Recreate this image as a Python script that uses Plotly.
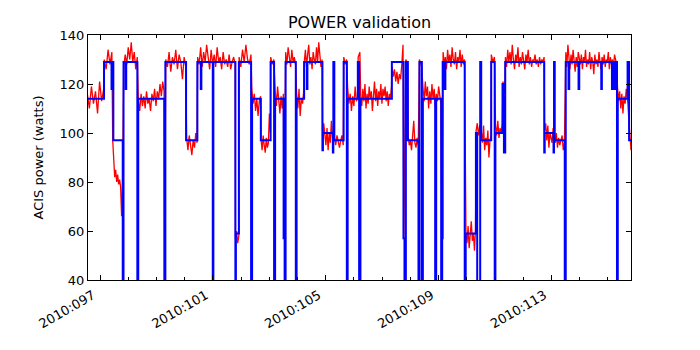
import numpy as np
import plotly.graph_objects as go

# Model power (blue step line): time in day-of-year 2010, value in watts
blue_time = [96.50, 97.142, 97.408, 97.433, 97.472, 97.805, 97.833, 97.911, 97.929, 98.323,
             98.355, 99.280, 99.316, 100.050, 100.450, 100.571, 100.592, 100.996, 101.018, 101.798,
             101.816, 101.922, 102.355, 102.390, 102.699, 103.046, 103.170, 103.206, 103.507, 103.543,
             103.578, 103.940, 103.968, 104.234, 104.330, 104.351, 104.883, 104.901, 105.252, 105.270,
             105.305, 105.635, 105.748, 105.777, 106.138, 106.184, 106.230, 107.344, 107.755, 107.791,
             107.840, 107.911, 108.287, 108.323, 108.408, 108.443, 108.879, 108.915, 109.092, 109.128,
             109.145, 109.216, 109.241, 109.926, 109.961, 110.323, 110.369, 110.475, 110.511, 110.865,
             110.989, 111.014, 111.266, 111.316, 111.362, 112.745, 112.762, 113.074, 113.092, 113.117,
             113.472, 113.507, 113.606, 113.631, 113.961, 113.986, 114.766, 114.787, 115.145, 115.167,
             115.238, 115.262, 115.323, 115.351, 115.699, 115.752, 116.0]
blue_power = [114, 129, 118, 129, 97, 0, 129, 118, 129, 0,
              114, 0, 129, 97, 129, 118, 129, 0, 129, 0,
              59, 129, 0, 114, 97, 129, 0, 114, 57, 0,
              129, 0, 114, 129, 118, 129, 93, 100, 92, 129,
              97, 129, 0, 114, 129, 0, 114, 129, 57, 0,
              129, 97, 0, 129, 0, 114, 0, 114, 0, 57,
              129, 118, 129, 0, 59, 100, 0, 129, 97, 129,
              0, 100, 120, 92, 129, 92, 100, 92, 129, 97,
              0, 129, 118, 129, 118, 129, 118, 129, 118, 129,
              118, 129, 0, 114, 129, 97, 97]

# Telemetry power (red): segment start/end times and the values read in each segment
red_seg_start = [96.55, 97.15, 97.45, 97.84, 98.36, 99.29, 99.33, 100.07, 100.46, 101.80,
                 101.93, 102.38, 102.71, 103.05, 103.21, 103.52, 103.58, 103.97, 104.24, 104.89,
                 105.31, 105.64, 105.78, 106.15, 106.24, 107.35, 107.77, 107.84, 107.92, 108.32,
                 108.45, 109.12, 109.16, 109.97, 110.33, 110.52, 110.87, 111.02, 111.28, 111.37,
                 112.76, 113.09, 113.51, 115.34, 115.71]
red_seg_end = [97.13, 97.42, 97.80, 98.32, 99.27, 99.29, 100.04, 100.44, 101.79, 101.92,
               102.35, 102.69, 103.04, 103.16, 103.50, 103.52, 103.93, 104.22, 104.87, 105.24,
               105.62, 105.74, 106.13, 106.21, 107.33, 107.74, 107.77, 107.90, 108.28, 108.40,
               109.08, 109.12, 109.92, 110.31, 110.50, 110.86, 110.98, 111.26, 111.35, 112.74,
               113.06, 113.46, 115.31, 115.69, 115.82]
red_seg_values = [
    [116, 110, 119, 112, 117, 108, 121, 113, 118],
    [130, 126, 134, 128, 133],
    [97, 88, 82, 85, 80, 83, 79, 81, 78, 66, 80],
    [127, 132, 128, 135, 130, 137, 129, 133, 126, 131],
    [113, 109, 116, 111, 115, 110, 117, 112, 114, 109, 116, 113, 118, 111, 117, 114, 120, 115, 121, 117],
    [56],
    [130, 127, 133, 125, 131, 128, 134, 126, 132, 129, 122, 131, 127],
    [98, 93, 99, 95, 91, 97, 94, 100, 96],
    [131, 128, 135, 127, 133, 129, 136, 130, 126, 134, 128, 132, 127, 135, 129, 131, 126, 133, 128, 130,
     127, 132, 126, 129, 131, 128],
    [57, 60, 55, 58],
    [131, 127, 134, 129, 136, 130, 128, 132],
    [118, 112, 116, 109, 114, 107, 113, 115],
    [97, 93, 99, 95, 92, 98, 94, 96, 108, 100],
    [131, 128, 130],
    [117, 111, 119, 113, 108, 115, 110, 116],
    [57],
    [133, 128, 135, 130, 127, 134, 129, 131, 128],
    [116, 110, 118, 107, 114, 112, 117],
    [129, 134, 127, 132, 136, 128, 131, 126, 133, 130, 128, 135, 129, 137, 131, 127, 130],
    [97, 104, 99, 95, 102, 93, 100, 96, 105, 98],
    [98, 95, 99, 96, 94, 97, 99, 95],
    [131, 128, 130],
    [118, 112, 116, 109, 115, 111, 119, 113, 114],
    [131, 133],
    [115, 111, 118, 113, 120, 110, 116, 112, 119, 114, 117, 109, 116, 121, 113, 118, 111, 117, 114, 120,
     112, 118, 115, 119, 113, 117, 111, 116, 114, 119],
    [127, 123, 126, 121, 125, 120, 124, 122, 128, 136],
    [57],
    [130, 128],
    [99, 95, 97, 93, 100, 105, 96, 94, 98, 95],
    [130, 127],
    [118, 113, 121, 115, 119, 110, 117, 112, 120, 114, 118, 111, 116, 113, 119, 115, 112],
    [57],
    [133, 128, 131, 126, 134, 129, 132, 127, 135, 130, 128, 133, 126, 131, 129, 134, 127, 132, 128, 130],
    [60, 55, 62, 53, 58, 64, 56, 59, 52, 61],
    [101, 104, 99, 103, 97],
    [100, 96, 103, 93, 98, 95, 101, 90, 97, 99],
    [132, 129, 131],
    [103, 99, 105, 98, 102, 100, 104],
    [121, 118],
    [131, 127, 134, 129, 133, 128, 136, 130, 126, 132, 129, 135, 127, 131, 128, 133, 130, 126, 132, 129,
     134, 128, 131, 127, 130, 129, 132, 128, 130, 127, 131, 128, 130, 129, 131],
    [101, 104, 97, 103, 94, 100, 98, 96, 102],
    [99, 96, 100, 94, 98, 95, 97, 99, 93, 96],
    [133, 127, 136, 130, 126, 132, 128, 134, 129, 125, 131, 127, 133, 130, 128, 132, 126, 131, 129, 134,
     127, 130, 128, 133, 126, 131, 129, 124, 132, 128, 130, 127, 133, 129, 126, 131, 128, 132, 127, 130,
     129, 133, 126, 131, 128, 130, 127, 132, 129, 128],
    [119, 113, 117, 110, 116, 108, 115, 112, 118, 114],
    [112, 105, 97, 93],
]

tick_days = [97, 101, 105, 109, 113]
tick_labels = ["2010:097", "2010:101", "2010:105", "2010:109", "2010:113"]

red_time = []
red_power = []
for t0, t1, vals in zip(red_seg_start, red_seg_end, red_seg_values):
    red_time.extend(np.linspace(t0, t1, len(vals)) if len(vals) > 1 else [t0])
    red_power.extend(vals)

fig = go.Figure()
fig.add_trace(go.Scatter(x=red_time, y=red_power, mode="lines",
                         line=dict(color="red", width=1.3), showlegend=False))
fig.add_trace(go.Scatter(x=blue_time, y=blue_power, mode="lines",
                         line=dict(color="blue", width=2, shape="hv"), showlegend=False))

axis_common = dict(showline=True, linecolor="black", linewidth=1, mirror="allticks",
                   ticks="inside", tickcolor="black", showgrid=False, zeroline=False,
                   automargin=False,
                   tickfont=dict(family="DejaVu Sans", size=13, color="black"))

fig.update_xaxes(range=[96.574, 115.82], tickvals=tick_days, ticktext=tick_labels,
                 tickangle=-30, ticklen=5, ticklabelshift=-7, ticklabelstandoff=2,
                 minor=dict(dtick=1, tick0=97, ticks="inside", ticklen=3, tickcolor="black", showgrid=False),
                 **axis_common)
fig.update_yaxes(range=[40, 140], dtick=20, ticklen=5,
                 title=dict(text="ACIS power (watts)", font=dict(family="DejaVu Sans", size=13, color="black"),
                            standoff=13),
                 **axis_common)

fig.update_layout(
    width=700, height=350,
    margin=dict(l=88, r=69, t=35, b=70),
    paper_bgcolor="white", plot_bgcolor="white",
    title=dict(text="POWER validation", x=0.5, xref="paper", y=0.937, yanchor="middle",
               font=dict(family="DejaVu Sans", size=16, color="black")),
)

# drop the default page margin so the figure sits at the window's corner
fig.write_html("out.html", config={"displayModeBar": False},
               post_script="document.body.style.margin='0';")
